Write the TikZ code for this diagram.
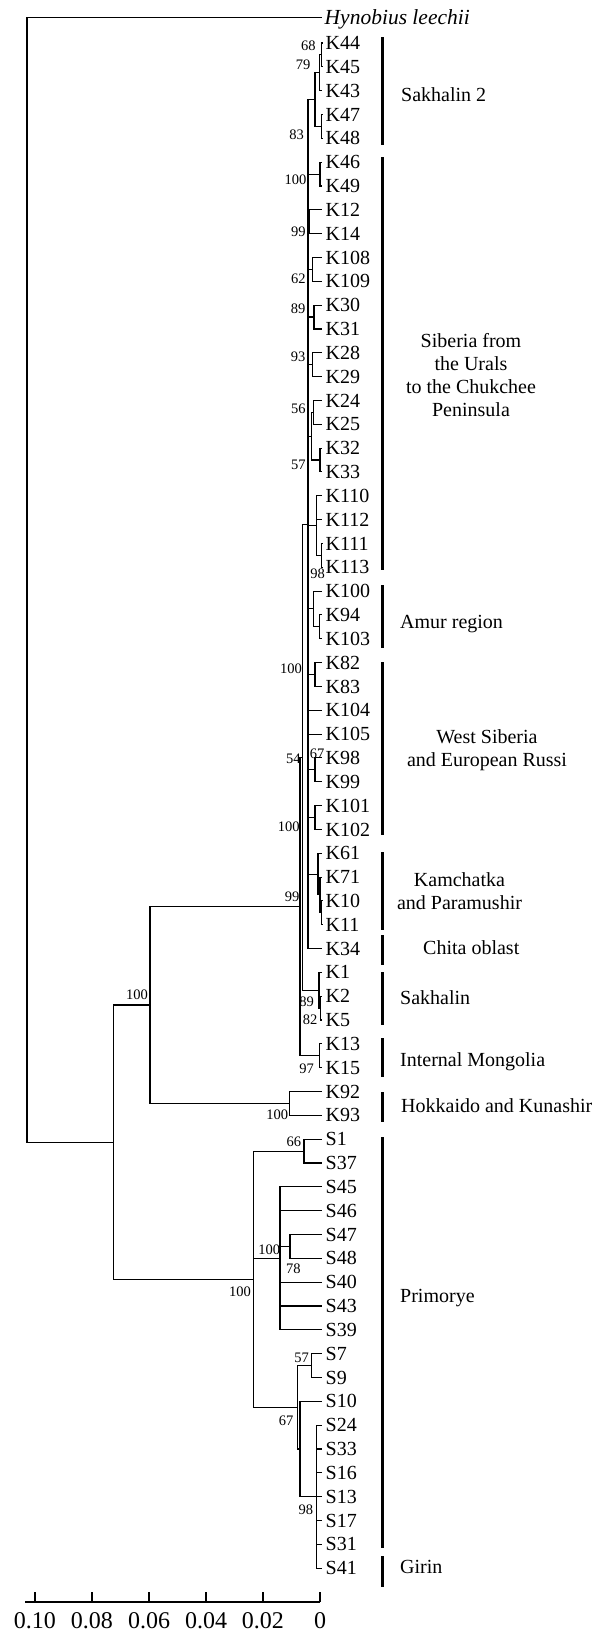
\documentclass[tikz,border=0pt]{standalone}
\usepackage{fontspec}
\setmainfont{Liberation Serif}
\newcommand\leafnode[2]{\node[leaf] (#1) at (322,{43+(#2-1)*23.83}) {#1};}
\newcommand\kids[2]{\foreach \c in {#2} {\draw[br] (#1) |- (\c);}}
\begin{document}
\begin{tikzpicture}[x=1pt,y=-1pt,
  br/.style={line width=1.1pt},
  leaf/.style={anchor=west, inner xsep=3.5pt, inner ysep=0pt, text height=13.2pt, text depth=0pt, font=\fontsize{20}{20}\selectfont},
  bs/.style={inner sep=0pt, font=\fontsize{14.5}{14.5}\selectfont},
  bar/.style={line width=3.5pt},
  grp/.style={inner sep=0pt, font=\fontsize{20}{23}\selectfont},
  grp1/.style={grp, anchor=west, text height=13.2pt, text depth=0pt},
  tick/.style={line width=1.1pt},
  axl/.style={inner sep=0pt, font=\fontsize{24}{24}\selectfont}]
\useasboundingbox (0,0) rectangle (613,1638);
\fill[white] (0,0) rectangle (613,1638);
% leaves
\leafnode{K44}{1}\leafnode{K45}{2}\leafnode{K43}{3}\leafnode{K47}{4}\leafnode{K48}{5}
\leafnode{K46}{6}\leafnode{K49}{7}\leafnode{K12}{8}\leafnode{K14}{9}\leafnode{K108}{10}
\leafnode{K109}{11}\leafnode{K30}{12}\leafnode{K31}{13}\leafnode{K28}{14}\leafnode{K29}{15}
\leafnode{K24}{16}\leafnode{K25}{17}\leafnode{K32}{18}\leafnode{K33}{19}\leafnode{K110}{20}
\leafnode{K112}{21}\leafnode{K111}{22}\leafnode{K113}{23}\leafnode{K100}{24}\leafnode{K94}{25}
\leafnode{K103}{26}\leafnode{K82}{27}\leafnode{K83}{28}\leafnode{K104}{29}\leafnode{K105}{30}
\leafnode{K98}{31}\leafnode{K99}{32}\leafnode{K101}{33}\leafnode{K102}{34}\leafnode{K61}{35}
\leafnode{K71}{36}\leafnode{K10}{37}\leafnode{K11}{38}\leafnode{K34}{39}\leafnode{K1}{40}
\leafnode{K2}{41}\leafnode{K5}{42}\leafnode{K13}{43}\leafnode{K15}{44}\leafnode{K92}{45}
\leafnode{K93}{46}\leafnode{S1}{47}\leafnode{S37}{48}\leafnode{S45}{49}\leafnode{S46}{50}
\leafnode{S47}{51}\leafnode{S48}{52}\leafnode{S40}{53}\leafnode{S43}{54}\leafnode{S39}{55}
\leafnode{S7}{56}\leafnode{S9}{57}\leafnode{S10}{58}\leafnode{S24}{59}\leafnode{S33}{60}
\leafnode{S16}{61}\leafnode{S13}{62}\leafnode{S17}{63}\leafnode{S31}{64}\leafnode{S41}{65}
\node[anchor=west, inner xsep=2.5pt, inner ysep=0pt, text height=14.2pt, text depth=0pt] (Hyn) at (322,17.5) {\fontsize{21.5}{21.5}\selectfont\itshape Hynobius leechii};
% internal nodes
\coordinate (n4445) at (321.7,54.9);
\coordinate (n4344) at (319.3,72.8);
\coordinate (n4748) at (321.7,126.4);
\coordinate (nSak2) at (315,99.6);
\coordinate (n4649) at (320,174.1);
\coordinate (n1214) at (309.5,221.7);
\coordinate (n108) at (312.7,269.4);
\coordinate (n3031) at (314,317.0);
\coordinate (n2829) at (312.7,364.7);
\coordinate (n2425) at (313.3,412.4);
\coordinate (n3233) at (320,460.0);
\coordinate (n2433) at (311.7,436.2);
\coordinate (n111113) at (321.7,555.3);
\coordinate (n110) at (316.7,525.5);
\coordinate (n94103) at (319.3,626.8);
\coordinate (nAmur) at (313.3,608.9);
\coordinate (n8283) at (315,674.5);
\coordinate (n9899) at (315,769.8);
\coordinate (n101102) at (315,817.5);
\coordinate (n1011) at (321.7,912.8);
\coordinate (n71) at (320,894.9);
\coordinate (nKam) at (318,874.1);
\coordinate (D) at (308,524.1);
\coordinate (n25) at (320.5,1008.1);
\coordinate (nSakh) at (319,990.2);
\coordinate (C) at (302.3,757.2);
\coordinate (nMong) at (319.3,1055.8);
\coordinate (A) at (300,906.5);
\coordinate (n9293) at (289.3,1103.4);
\coordinate (E) at (150,1005);
\coordinate (n137) at (304,1151.1);
\coordinate (n4748s) at (290,1246.4);
\coordinate (H) at (280,1258.3);
\coordinate (n79) at (311.7,1365.6);
\coordinate (Kc) at (316.7,1496.6);
\coordinate (J) at (300,1449.0);
\coordinate (I) at (297.3,1407.3);
\coordinate (G) at (253.3,1279.2);
\coordinate (F) at (113.3,1142.1);
\coordinate (root) at (27,579.8);
% branches
\kids{n4445}{K44.west,K45.west}
\kids{n4344}{n4445,K43.west}
\kids{n4748}{K47.west,K48.west}
\kids{nSak2}{n4344,n4748}
\kids{n4649}{K46.west,K49.west}
\kids{n1214}{K12.west,K14.west}
\kids{n108}{K108.west,K109.west}
\kids{n3031}{K30.west,K31.west}
\kids{n2829}{K28.west,K29.west}
\kids{n2425}{K24.west,K25.west}
\kids{n3233}{K32.west,K33.west}
\kids{n2433}{n2425,n3233}
\kids{n111113}{K111.west,K113.west}
\kids{n110}{K110.west,K112.west,n111113}
\kids{n94103}{K94.west,K103.west}
\kids{nAmur}{K100.west,n94103}
\kids{n8283}{K82.west,K83.west}
\kids{n9899}{K98.west,K99.west}
\kids{n101102}{K101.west,K102.west}
\kids{n1011}{K10.west,K11.west}
\kids{n71}{K71.west,n1011}
\kids{nKam}{K61.west,n71}
\kids{D}{nSak2,n4649,n1214,n108,n3031,n2829,n2433,n110,nAmur,n8283,K104.west,K105.west,n9899,n101102,nKam,K34.west}
\kids{n25}{K2.west,K5.west}
\kids{nSakh}{K1.west,n25}
\kids{C}{D,nSakh}
\kids{nMong}{K13.west,K15.west}
\kids{A}{C,nMong}
\kids{n9293}{K92.west,K93.west}
\kids{E}{A,n9293}
\kids{n137}{S1.west,S37.west}
\kids{n4748s}{S47.west,S48.west}
\kids{H}{S45.west,S46.west,n4748s,S40.west,S43.west,S39.west}
\kids{n79}{S7.west,S9.west}
\kids{Kc}{S24.west,S33.west,S16.west,S13.west,S17.west,S31.west,S41.west}
\kids{J}{S10.west,Kc}
\kids{I}{n79,J}
\kids{G}{n137,H,I}
\kids{F}{E,G}
\kids{root}{Hyn.west,F}
% bootstrap values
\node[bs] (b1) at (308.3,46) {68};
\node[bs] (b2) at (303,65.2) {79};
\node[bs] (b3) at (296.7,135) {83};
\node[bs] (b4) at (295.5,180) {100};
\node[bs] (b5) at (298.3,231.7) {99};
\node[bs] (b6) at (298.3,278.3) {62};
\node[bs] (b7) at (298,308.3) {89};
\node[bs] (b8) at (298,356.7) {93};
\node[bs] (b9) at (298.3,408.3) {56};
\node[bs] (b10) at (298.3,465.3) {57};
\node[bs] (b11) at (317.5,573.3) {98};
\node[bs] (b12) at (291,668.3) {100};
\node[bs] (b13) at (293.3,759) {54};
\node[bs] (b14) at (317,754) {67};
\node[bs] (b15) at (288.7,826.7) {100};
\node[bs] (b16) at (292,896.7) {99};
\node[bs] (b17) at (306.7,1001.7) {89};
\node[bs] (b18) at (310,1020) {82};
\node[bs] (b19) at (306.7,1069) {97};
\node[bs] (b20) at (137,995) {100};
\node[bs] (b21) at (277.2,1115) {100};
\node[bs] (b22) at (293.8,1141.7) {66};
\node[bs] (b23) at (269.2,1250) {100};
\node[bs] (b24) at (293.3,1268.3) {78};
\node[bs] (b25) at (240,1291.7) {100};
\node[bs] (b26) at (301.7,1357.7) {57};
\node[bs] (b27) at (286,1421) {67};
\node[bs] (b28) at (305.8,1510) {98};
% group bars
\draw[bar] (382.5,37) coordinate (r1a) -- (382.5,145) coordinate (r1b);
\draw[bar] (382.5,157) coordinate (r2a) -- (382.5,570) coordinate (r2b);
\draw[bar] (382.5,585) coordinate (r3a) -- (382.5,648) coordinate (r3b);
\draw[bar] (382.5,662) coordinate (r4a) -- (382.5,835) coordinate (r4b);
\draw[bar] (382.5,852) coordinate (r5a) -- (382.5,930) coordinate (r5b);
\draw[bar] (382.5,935) coordinate (r6a) -- (382.5,965) coordinate (r6b);
\draw[bar] (382.5,972) coordinate (r7a) -- (382.5,1025) coordinate (r7b);
\draw[bar] (382.5,1038) coordinate (r8a) -- (382.5,1077) coordinate (r8b);
\draw[bar] (382.5,1092) coordinate (r9a) -- (382.5,1122) coordinate (r9b);
\draw[bar] (382.5,1137) coordinate (r10a) -- (382.5,1548) coordinate (r10b);
\draw[bar] (382.5,1556) coordinate (r11a) -- (382.5,1587) coordinate (r11b);
% group labels
\node[grp1] (g1) at (401,95) {Sakhalin 2};
\node[grp, align=center] (g2) at (471,375) {Siberia from\\the Urals\\to the Chukchee\\Peninsula};
\node[grp1] (g3) at (400,622) {Amur region};
\node[grp, align=center] (g4) at (487,750) {West Siberia\\and European Russi};
\node[grp, align=center] (g5) at (459.5,891.5) {Kamchatka\\and Paramushir};
\node[grp1] (g6) at (423,948) {Chita oblast};
\node[grp1] (g7) at (400,998) {Sakhalin};
\node[grp1] (g8) at (400,1060) {Internal Mongolia};
\node[grp1] (g9) at (401,1106) {Hokkaido and Kunashir};
\node[grp1] (g10) at (400,1296) {Primorye};
\node[grp1] (g11) at (400,1567) {Girin};
% scale axis
\coordinate (ax0) at (25,1602);
\coordinate (ax1) at (320,1602);
\draw[tick] (ax0) -- (ax1);
\foreach \v/\t [count=\i] in {0/0,0.02/0.02,0.04/0.04,0.06/0.06,0.08/0.08,0.10/0.10} {
  \draw[tick] ({320-\v*2850},1602) -- ({320-\v*2850},1592);
  \node[axl] (al\i) at ({320-\v*2850},1620.5) {\t};
}
\end{tikzpicture}
\end{document}
